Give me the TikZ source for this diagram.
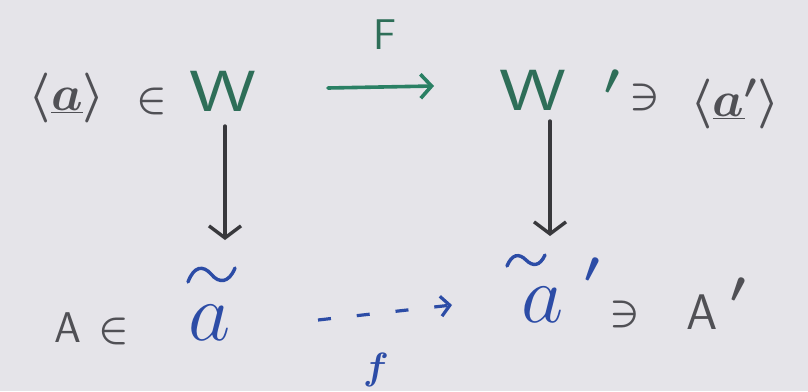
\RequirePackage{fix-cm}
\documentclass[tikz,border=0pt]{standalone}
\usetikzlibrary{arrows.meta}
\definecolor{paper}{HTML}{E5E4E9}
\definecolor{ink}{HTML}{505055}
\definecolor{grn}{HTML}{2E6E58}
\definecolor{grnarrow}{HTML}{2A8064}
\definecolor{blu}{HTML}{2C4CA6}
\definecolor{dark}{HTML}{38383C}
\begin{document}
\begin{tikzpicture}[x=1pt,y=-1pt,
  lbl/.style={inner sep=0pt,anchor=center},
  greytxt/.style={lbl,text=ink,font=\fontsize{50}{50}\selectfont\boldmath},
  greysym/.style={lbl,text=ink,font=\fontsize{40}{40}\selectfont\boldmath},
  greensf/.style={lbl,text=grn,font=\fontsize{58}{58}\selectfont\sffamily},
  bluetxt/.style={lbl,text=blu,font=\fontsize{82}{82}\selectfont},
  tildestroke/.style={draw=blu,line width=3.4pt,line cap=round},
  primemark/.style={lbl,font=\fontsize{44}{44}\selectfont\boldmath},
  downarrow/.style={draw=dark,line width=3.4pt,line cap=round,
    -{Straight Barb[length=12pt,width=32pt,line width=3.4pt]}},
  greenarrow/.style={draw=grnarrow,line width=3.6pt,line cap=round,
    -{Straight Barb[length=11pt,width=24pt,line width=3.6pt]}},
  bluearrow/.style={draw=blu,line width=3.2pt,dash pattern=on 13pt off 26pt,
    -{Straight Barb[length=9pt,width=20pt,line width=3.2pt]}}]
\fill[paper] (0,0) rectangle (808,391);

% top row
\node[greytxt] (aL) at (67,98) {$\langle\underline{a}\rangle$};
\node[greysym] (inL) at (152,101) {$\in$};
\node[greensf,xscale=1.3] (W) at (223,91) {W};
\node[greensf,xscale=1.3] (Wp) at (533,90) {W};
\node[primemark,text=grn] (Wpr) at (612,82) {$\prime$};
\node[greysym] (niR) at (645,97) {$\ni$};
\node[greytxt] (aR) at (735,104) {$\langle\underline{a}'\rangle$};

% F arrow
\node[lbl,text=grn,font=\fontsize{43}{43}\selectfont\sffamily] (F) at (385,35) {F};
\coordinate (Fs) at (328,88);
\coordinate (Fe) at (434,86);
\draw[greenarrow] (Fs) -- (Fe);

% bottom row
\node[lbl,text=ink,font=\fontsize{43}{43}\selectfont\sffamily] (A) at (68,328) {A};
\node[greysym] (inA) at (114,331) {$\in$};
\node[bluetxt] (at) at (210,323) {$a$};
\draw[tildestroke] (188,282) .. controls (194,266) and (203,265) .. (211,274)
  .. controls (219,284) and (229,283) .. (235,268);
\node[bluetxt] (atp) at (543,305) {$a$};
\draw[tildestroke] (507,266) .. controls (512,254) and (519,253) .. (526,260)
  .. controls (533,267) and (540,266) .. (545,255);
\node[primemark,text=blu] (atpr) at (592,270) {$\prime$};
\node[greysym] (ni2) at (625,314) {$\ni$};
\node[lbl,text=ink,font=\fontsize{50}{50}\selectfont\sffamily] (Ap) at (702,312) {A};
\node[primemark,text=ink] (Appr) at (738,290) {$\prime$};

% f arrow
\node[lbl,text=blu,font=\fontsize{38}{38}\selectfont\boldmath] (f) at (376,370) {$f$};
\coordinate (fs) at (318,320);
\coordinate (fe) at (452,305);
\draw[bluearrow] (fs) -- (fe);

% vertical arrows
\coordinate (dLs) at (225,126);
\coordinate (dLe) at (225,240);
\coordinate (dRs) at (550,121);
\coordinate (dRe) at (550,236);
\draw[downarrow] (dLs) -- (dLe);
\draw[downarrow] (dRs) -- (dRe);
\end{tikzpicture}
\end{document}
